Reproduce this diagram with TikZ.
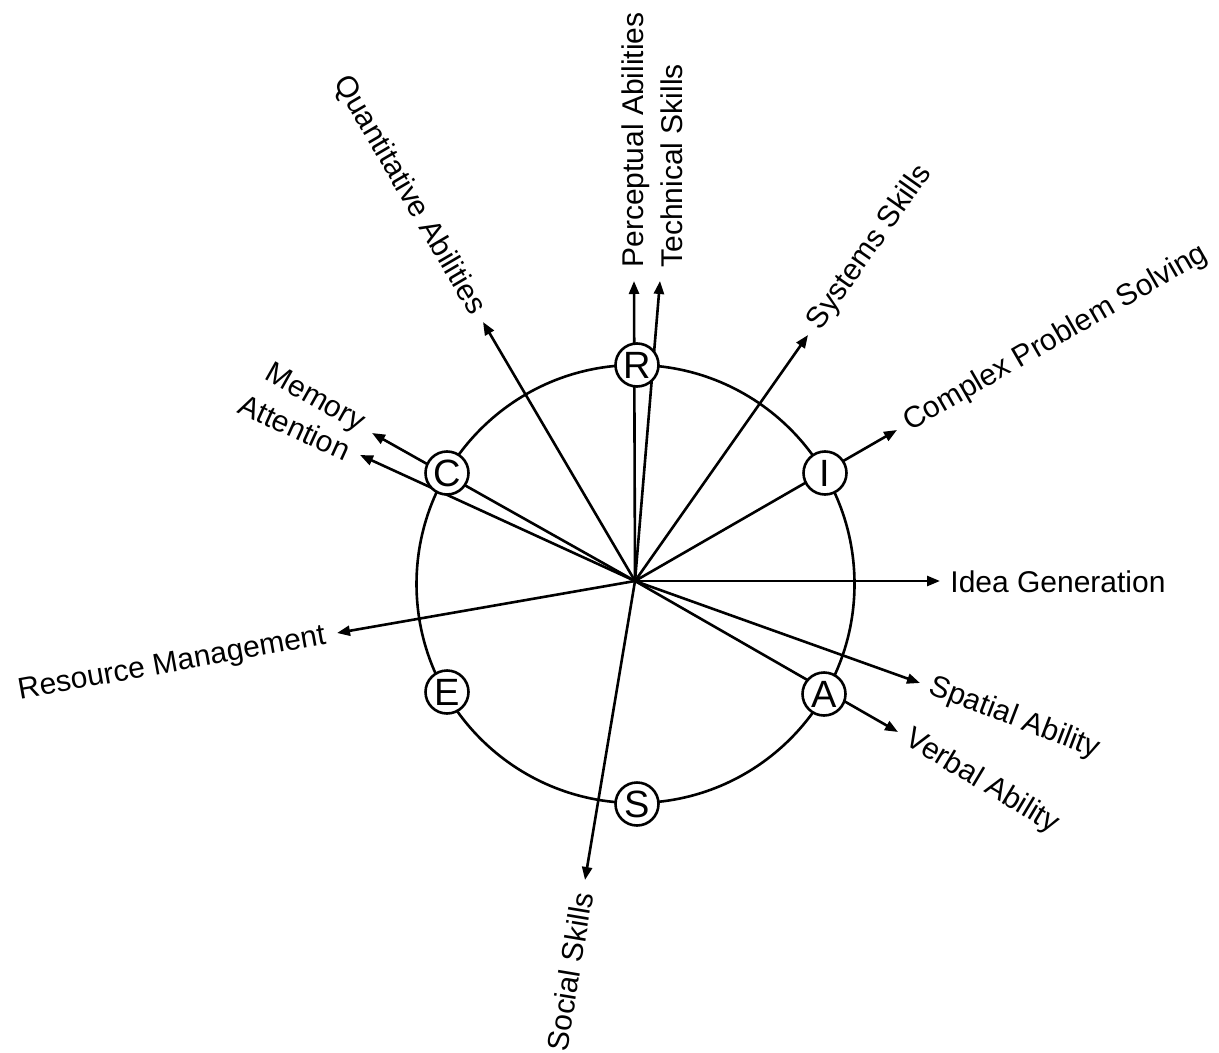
\documentclass[tikz,border=0pt]{standalone}
\usepackage{fontspec}
\setmainfont{Liberation Sans}
\usetikzlibrary{arrows.meta}
\begin{document}
\begin{tikzpicture}[x=0.5pt,y=-0.5pt,
  ln/.style={line width=1.3pt},
  arr/.style={ln,-{Triangle[length=6.5pt,width=5pt]}},
  lbl/.style={inner sep=0pt,font=\fontsize{15}{18}\selectfont},
  letter/.style={circle,draw,line width=1.3pt,fill=white,minimum size=21.5pt,inner sep=0pt,font=\fontsize{19}{22}\selectfont}]
\useasboundingbox (0,0) rectangle (1219,1053);
\fill[white] (0,0) rectangle (1219,1053);
% main circle
\coordinate (cc) at (635.5,584);
\draw[ln] (cc) circle[radius=219];
% hub and tips
\coordinate (hub) at (635,581);
\coordinate (tPer) at (634,281);
\coordinate (tTec) at (660,281);
\coordinate (tQua) at (483,322);
\coordinate (tSys) at (808,335);
\coordinate (tCom) at (897,430);
\coordinate (tMem) at (372,433);
\coordinate (tAtt) at (360,455);
\coordinate (tIde) at (940,581);
\coordinate (tRes) at (337,633);
\coordinate (tSpa) at (920,683);
\coordinate (tVer) at (898,732);
\coordinate (tSoc) at (585,880);
\foreach \t in {Per,Tec,Qua,Sys,Com,Mem,Att,Ide,Res,Spa,Ver,Soc}
  \draw[arr] (hub) -- (t\t);
% labels
\node[lbl,anchor=west,rotate=90] (lPer) at (636,268) {Perceptual Abilities};
\node[lbl,anchor=west,rotate=90] (lTec) at (672,268) {Technical Skills};
\node[lbl,anchor=east,rotate=-59.6] (lQua) at (478,313) {Quantitative Abilities};
\node[lbl,anchor=west,rotate=54.9] (lSys) at (814,327) {Systems Skills};
\node[lbl,anchor=west,rotate=30] (lCom) at (906,425) {Complex Problem Solving};
\node[lbl,anchor=east,rotate=-29.4] (lMem) at (362,426) {Memory};
\node[lbl,anchor=east,rotate=-24.6] (lAtt) at (349,452) {Attention};
\node[lbl,anchor=west] (lIde) at (950,582) {Idea Generation};
\node[lbl,anchor=east,rotate=10.2] (lRes) at (326,637) {Resource Management};
\node[lbl,anchor=west,rotate=-21] (lSpa) at (930,686) {Spatial Ability};
\node[lbl,anchor=west,rotate=-31] (lVer) at (907,737) {Verbal Ability};
\node[lbl,anchor=east,rotate=80.5] (lSoc) at (583,892) {Social Skills};
% letter circles
\node[letter] (R) at (637,365) {R};
\node[letter] (I) at (825,473) {I};
\node[letter] (A) at (824,694) {A};
\node[letter] (S) at (637,804) {S};
\node[letter] (E) at (447,692) {E};
\node[letter] (C) at (447,473) {C};
\end{tikzpicture}
\end{document}
